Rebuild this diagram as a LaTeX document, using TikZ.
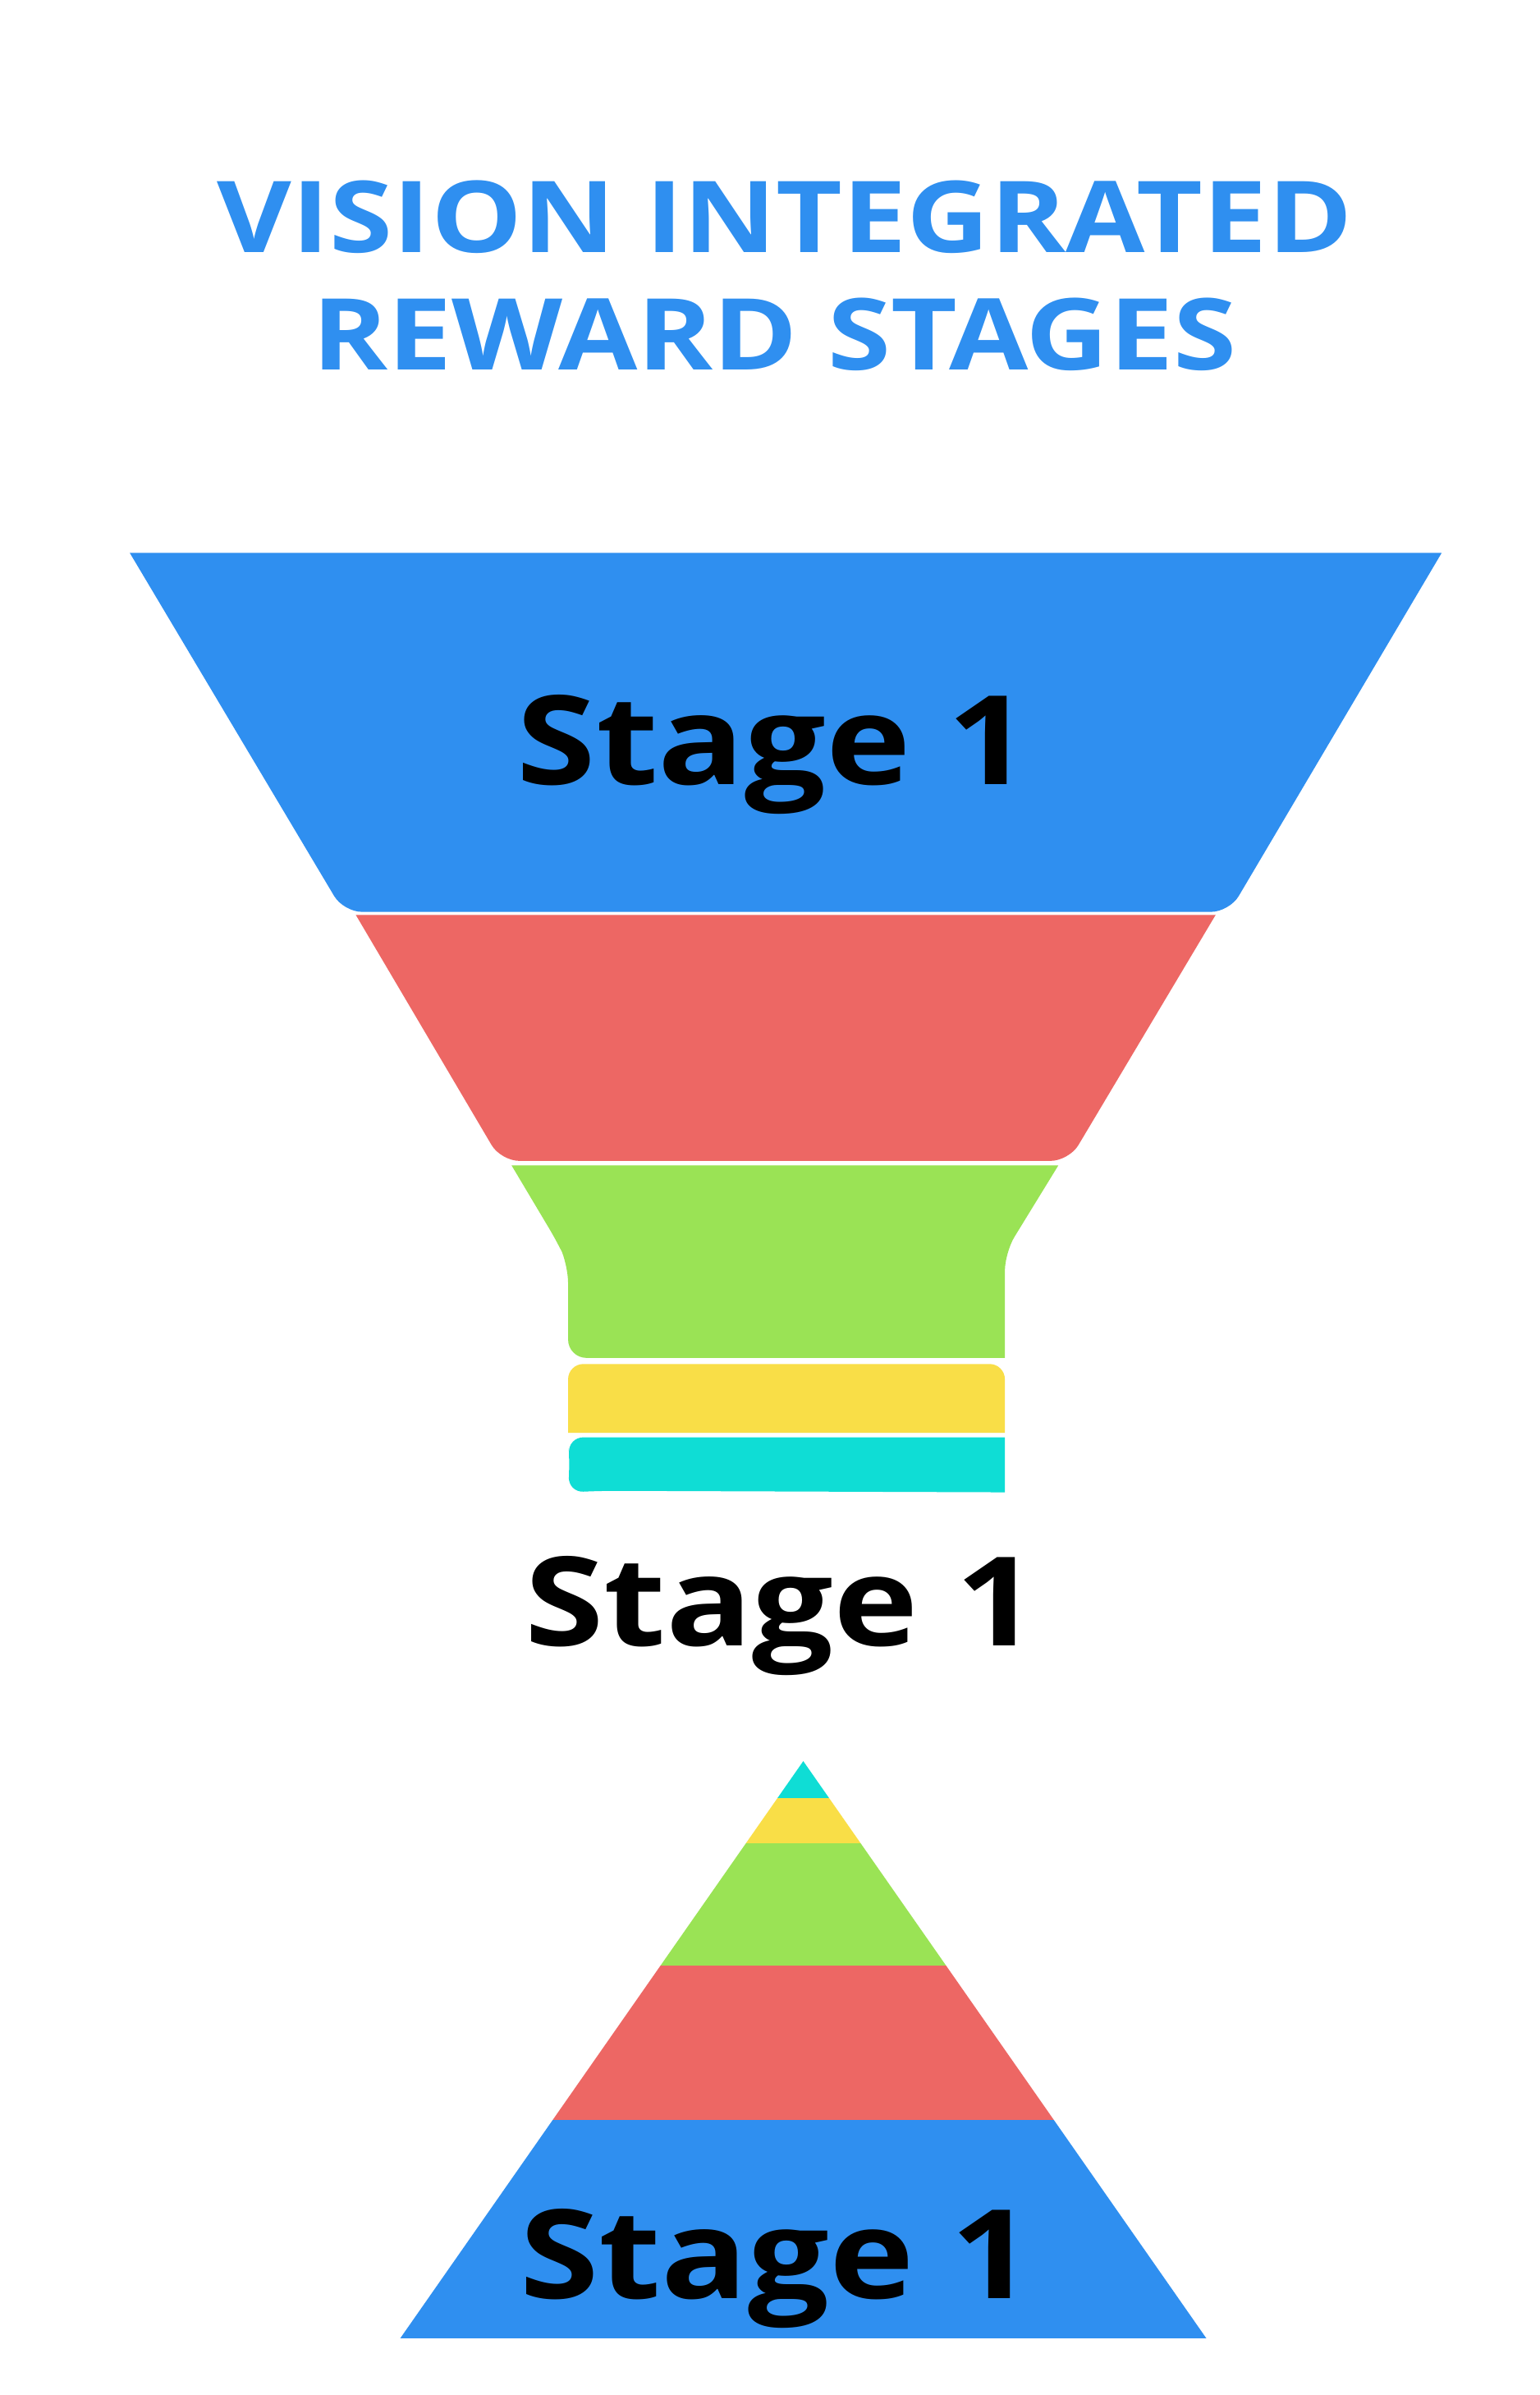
\documentclass[tikz,border=0pt]{standalone}
\usepackage{fontspec}
\setmainfont{Open Sans}
\newfontfamily\titlefont[FakeStretch=1.155]{Open Sans}
\newfontfamily\stagefont[FakeStretch=1.16]{Open Sans}
\definecolor{stageblue}{HTML}{2F8FF0}
\definecolor{stagered}{HTML}{ED6764}
\definecolor{stagegreen}{HTML}{9AE355}
\definecolor{stageyellow}{HTML}{F9DE47}
\definecolor{stagecyan}{HTML}{0FDDD5}
\tikzset{
  title/.style={text=stageblue, font=\titlefont\bfseries\fontsize{32.5}{36}\selectfont, inner sep=0pt},
  stagelabel/.style={text=black, font=\stagefont\bfseries\fontsize{40.5}{44}\selectfont, inner sep=0pt}
}
\begin{document}
\begin{tikzpicture}[x=0.5pt, y=-0.5pt]
\useasboundingbox[fill=white] (0,0) rectangle (1008,1568);
\node[title] (head1) at (514,142) {VISION INTEGRATED};
\node[title] (head2) at (507,219) {REWARD STAGES};
% funnel
\fill[stageblue] (85,362) -- (944,362) [rounded corners=6] -- (805,597) -- (225,597) [sharp corners] -- cycle;
\fill[stagered] (233,599) -- (796,599) [rounded corners=6] -- (700,760) -- (328,760) [sharp corners] -- cycle;
\fill[stagegreen] (335,763) -- (693,763) [rounded corners=6] -- (658,820) [sharp corners] -- (658,889) [rounded corners=6] -- (372,889) -- (372,828) -- (366,815) [sharp corners] -- cycle;
\fill[stageyellow] (372,938) [rounded corners=5] -- (372,893) -- (658,893) [sharp corners] -- (658,938) -- cycle;
\fill[stagecyan] (658,941) [rounded corners=5] -- (372,941) -- (373,958) -- (372,977) -- (395,976) [sharp corners] -- (658,977) -- cycle;
\node[stagelabel] (funnellabel) at (506.5,494) {Stage 1};
\node[stagelabel] (midlabel) at (511.5,1058) {Stage 1};
% pyramid
\begin{scope}
\clip (526,1153) -- (790,1531) -- (262,1531) -- cycle;
\fill[stagecyan] (250,1150) rectangle (800,1177);
\fill[stageyellow] (250,1177) rectangle (800,1207);
\fill[stagegreen] (250,1207) rectangle (800,1287);
\fill[stagered] (250,1287) rectangle (800,1388);
\fill[stageblue] (250,1388) rectangle (800,1531);
\end{scope}
\node[stagelabel] (pyramidlabel) at (508.5,1485) {Stage 1};
\end{tikzpicture}
\end{document}
